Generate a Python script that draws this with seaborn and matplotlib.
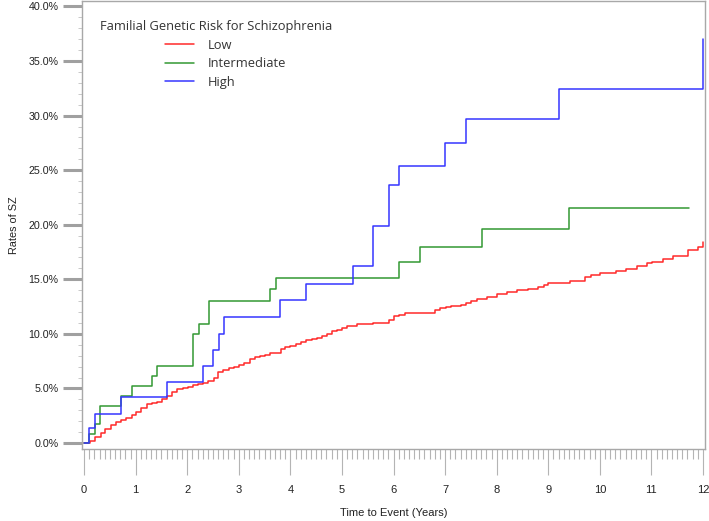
import matplotlib
matplotlib.use("Agg")
import matplotlib.pyplot as plt
import pandas as pd
import seaborn as sns
from matplotlib.ticker import FixedLocator, MultipleLocator, FuncFormatter

# Cumulative rates (%), step after each time point
low_t = [0, 0.12, 0.22, 0.32, 0.41, 0.52, 0.61, 0.72, 0.815, 0.92, 1.01, 1.11, 1.22, 1.31,
         1.41, 1.51, 1.61, 1.71, 1.81, 1.91, 2.01, 2.11, 2.21, 2.31, 2.40, 2.51, 2.60, 2.70,
         2.81, 2.90, 3.00, 3.11, 3.22, 3.32, 3.41, 3.51, 3.61, 3.81, 3.90, 4.00, 4.11, 4.21,
         4.31, 4.41, 4.51, 4.61, 4.71, 4.80, 4.90, 5.00, 5.10, 5.30, 5.61, 5.91, 6.00, 6.10,
         6.22, 6.80, 6.90, 7.01, 7.11, 7.31, 7.41, 7.51, 7.61, 7.71, 7.81, 8.00, 8.20, 8.40,
         8.60, 8.80, 8.91, 9.00, 9.43, 9.72, 9.82, 10.00, 10.31, 10.51, 10.72, 10.91, 11.01,
         11.22, 11.42, 11.71, 11.91, 12.0]
low_p = [0, 0.21, 0.58, 0.89, 1.28, 1.62, 1.92, 2.08, 2.26, 2.56, 2.87, 3.23, 3.54, 3.69,
         3.80, 4.00, 4.30, 4.67, 4.92, 5.00, 5.16, 5.31, 5.40, 5.52, 5.70, 5.92, 6.53, 6.68,
         6.84, 7.00, 7.17, 7.30, 7.69, 7.84, 7.96, 8.05, 8.27, 8.58, 8.79, 8.88, 9.06, 9.25,
         9.43, 9.52, 9.58, 9.77, 9.98, 10.28, 10.40, 10.52, 10.74, 10.89, 11.00, 11.23, 11.60,
         11.70, 11.93, 12.17, 12.33, 12.48, 12.57, 12.69, 12.84, 13.00, 13.15, 13.24, 13.40,
         13.64, 13.80, 14.00, 14.10, 14.25, 14.50, 14.70, 14.83, 15.17, 15.35, 15.62, 15.77,
         15.93, 16.20, 16.45, 16.60, 16.84, 17.12, 17.73, 17.97, 18.46]

mid_t = [0, 0.10, 0.22, 0.31, 0.72, 0.92, 1.31, 1.42, 2.11, 2.22, 2.42, 3.61, 3.73, 6.11,
         6.51, 7.72, 9.41, 11.72]
mid_p = [0, 0.80, 1.70, 3.39, 4.30, 5.25, 6.16, 7.10, 10.00, 10.95, 12.97, 14.10, 15.16,
         16.60, 18.00, 19.62, 21.54, 21.54]

high_t = [0, 0.10, 0.22, 0.72, 1.61, 2.31, 2.50, 2.61, 2.72, 3.80, 4.31, 5.22, 5.61, 5.91,
          6.11, 7.00, 7.41, 9.21, 12.0]
high_p = [0, 1.35, 2.70, 4.20, 5.58, 7.10, 8.50, 10.00, 11.56, 13.06, 14.58, 16.26, 19.90,
          23.60, 25.40, 27.46, 29.66, 32.43, 36.98]

groups = ["Low", "Intermediate", "High"]
colors = ["#ff2a2a", "#339933", "#3535ff"]

df = pd.concat([
    pd.DataFrame({"time": low_t, "rate": low_p, "risk": "Low"}),
    pd.DataFrame({"time": mid_t, "rate": mid_p, "risk": "Intermediate"}),
    pd.DataFrame({"time": high_t, "rate": high_p, "risk": "High"}),
], ignore_index=True)

sns.set_style("white")
plt.rcParams["font.family"] = ["Liberation Sans", "DejaVu Sans"]

fig = plt.figure(figsize=(7.09, 5.21), dpi=100)
ax = fig.add_axes([0.1157, 0.1382, 0.8787, 0.8598])

sns.lineplot(data=df, x="time", y="rate", hue="risk", hue_order=groups,
             palette=colors, estimator=None, sort=False, drawstyle="steps-post",
             linewidth=1.1, ax=ax)

ax.set_xlim(-0.04, 12.04)
ax.set_ylim(-0.55, 40.5)
ax.xaxis.set_major_locator(MultipleLocator(1))
ax.xaxis.set_minor_locator(MultipleLocator(0.1))
ax.yaxis.set_major_locator(FixedLocator([0, 5, 10, 15, 20, 25, 30, 35, 40]))
ax.yaxis.set_minor_locator(MultipleLocator(1))
ax.yaxis.set_major_formatter(FuncFormatter(lambda v, p: f"{v:.1f}%"))

grey = "#a8a8a8"
for s in ax.spines.values():
    s.set_color(grey)
    s.set_linewidth(1.0)

ax.tick_params(axis="x", which="major", direction="out", length=19, width=0.8,
               color="#b4b4b4", labelsize=8, pad=7.2, labelcolor="#222222")
ax.tick_params(axis="x", which="minor", direction="out", length=7, width=0.8,
               color="#b4b4b4")
ax.tick_params(axis="y", which="major", direction="out", length=14, width=2.2,
               color="#a0a0a0", labelsize=7.7, pad=3, labelcolor="#222222")
ax.tick_params(axis="y", which="minor", direction="out", length=3, width=0.6,
               color="#c0c0c0")
ax.tick_params(bottom=True, left=True, which="both")

ax.set_xlabel("Time to Event (Years)", fontsize=8, labelpad=9, color="#222222")
ax.set_ylabel("Rates of SZ", fontsize=7.8, labelpad=7, color="#222222")

# trailing spaces widen the title box so the entries sit a little right of centre
handles, labels = ax.get_legend_handles_labels()
leg = ax.legend(handles, labels, title="Familial Genetic Risk for Schizophrenia      ",
                loc="upper left", bbox_to_anchor=(0.018, 0.971), frameon=False,
                borderpad=0, handlelength=2.2, handletextpad=1.1, labelspacing=0.42,
                prop={"family": "Open Sans", "size": 9.3},
                title_fontproperties={"family": "Open Sans", "size": 9.3})
leg.get_title().set_color("#333333")
for t in leg.get_texts():
    t.set_color("#333333")

fig.savefig("out.png", dpi=100)
